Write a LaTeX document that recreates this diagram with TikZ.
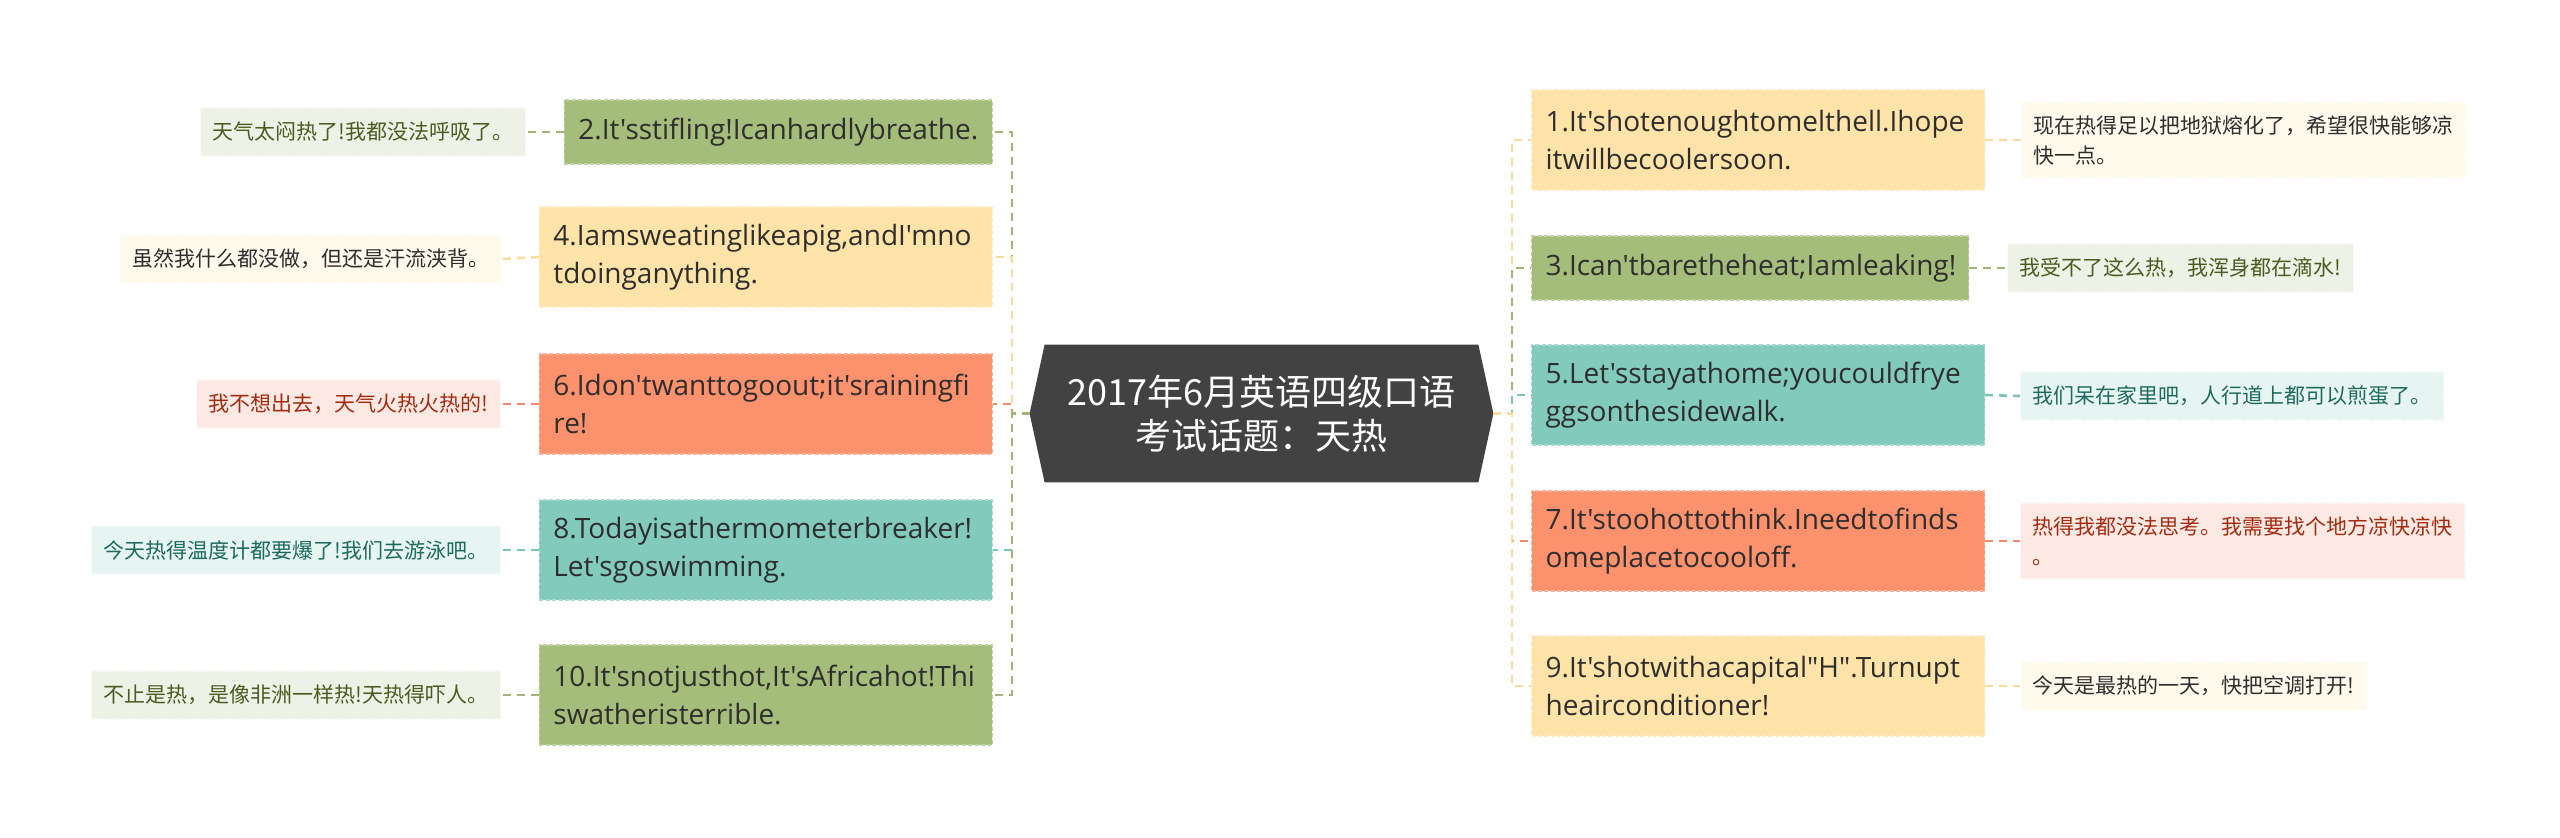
\documentclass[tikz,border=0pt]{standalone}
\usepackage{fontspec}
\newfontfamily\zh{Noto Sans CJK SC}
\newfontfamily\os{Open Sans}
\usetikzlibrary{backgrounds}
\hyphenpenalty=10000
\exhyphenpenalty=10000
\definecolor{cgreen}{HTML}{A5BD7A}
\definecolor{cyellow}{HTML}{FFE3A8}
\definecolor{corange}{HTML}{FC916E}
\definecolor{cteal}{HTML}{82CABC}
\definecolor{cdark}{HTML}{424242}
\definecolor{lgreen}{HTML}{EEF1E5}
\definecolor{lyellow}{HTML}{FFFAEC}
\definecolor{lorange}{HTML}{FDE9E3}
\definecolor{lteal}{HTML}{E6F5F2}
\definecolor{tgreen}{HTML}{4A5C22}
\definecolor{tdark}{HTML}{2E2E2E}
\definecolor{torange}{HTML}{A22C12}
\definecolor{tteal}{HTML}{1E6A5C}
\definecolor{kyellow}{HTML}{F8DC9F}
\definecolor{korange}{HTML}{F08C6B}
\definecolor{kteal}{HTML}{7CC4B7}
\definecolor{kgreen}{HTML}{A0B577}
\tikzset{
  conn/.style={draw=#1, line width=1.3pt, dash pattern=on 4pt off 3pt},
  mainbox/.style={fill=#1, draw=#1!70!white, line width=0.6pt, dash pattern=on 2pt off 1.2pt,
    font=\os\fontsize{14}{18.75}\selectfont, text=tdark, align=left, inner xsep=7pt, inner ysep=0pt},
  leafbox/.style 2 args={fill=#1, draw=#1!40!white, line width=0.6pt, dash pattern=on 2pt off 1.2pt,
    font=\zh\fontsize{10.5}{15}\selectfont, text=#2, align=left, inner xsep=6pt, inner ysep=0pt},
  one/.style={minimum height=32pt},
  two/.style={minimum height=50pt},
  lone/.style={minimum height=24pt},
  ltwo/.style={minimum height=38pt}
}
\begin{document}
\begin{tikzpicture}[x=0.5pt, y=-0.5pt]
\useasboundingbox (0,0) rectangle (2560,837);

% centre
\node[font=\zh\fontsize{18}{22}\selectfont, text=white, align=center,
      minimum width=231.5pt, minimum height=68.5pt, inner sep=0pt] (c) at (1261.5,413.5)
      {2017年6月英语四级口语\\考试话题：天热};
\begin{scope}[on background layer]
\fill[white] (0,0) rectangle (2560,837);
\fill[cdark] (c.west) -- ([xshift=7.5pt]c.north west) -- ([xshift=-7.5pt]c.north east)
  -- (c.east) -- ([xshift=-7.5pt]c.south east) -- ([xshift=7.5pt]c.south west) -- cycle;
\end{scope}

\coordinate (lb) at (1012,413.5);
\coordinate (rb) at (1512,413.5);

% left main nodes
\node[mainbox=cgreen, one, text width=200pt, anchor=east] (n2) at (993,132) {2.It'sstifling!Icanhardlybreathe.};
\node[mainbox=cyellow, two, text width=212.5pt, anchor=east] (n4) at (993,257) {4.Iamsweatinglikeapig,andI'mno\\tdoinganything.};
\node[mainbox=corange, two, text width=212.5pt, anchor=east] (n6) at (993,404) {6.Idon'twanttogoout;it'srainingfi\\re!};
\node[mainbox=cteal, two, text width=212.5pt, anchor=east] (n8) at (993,550) {8.Todayisathermometerbreaker!\\Let'sgoswimming.};
\node[mainbox=cgreen, two, text width=212.5pt, anchor=east] (n10) at (993,695) {10.It'snotjusthot,It'sAfricahot!Thi\\swatheristerrible.};

% right main nodes
\node[mainbox=cyellow, two, text width=212.5pt, anchor=west] (n1) at (1531,140) {1.It'shotenoughtomelthell.Ihope\\itwillbecoolersoon.};
\node[mainbox=cgreen, one, text width=204.5pt, anchor=west] (n3) at (1531,268) {3.Ican'tbaretheheat;Iamleaking!};
\node[mainbox=cteal, two, text width=212.5pt, anchor=west] (n5) at (1531,395) {5.Let'sstayathome;youcouldfrye\\ggsonthesidewalk.};
\node[mainbox=corange, two, text width=212.5pt, anchor=west] (n7) at (1531,541) {7.It'stoohottothink.Ineedtofinds\\omeplacetocooloff.};
\node[mainbox=cyellow, two, text width=212.5pt, anchor=west] (n9) at (1531,686) {9.It'shotwithacapital"H".Turnupt\\heairconditioner!};

% left leaves
\node[leafbox={lgreen}{tgreen}, lone, anchor=east] (l2) at (526,132) {天气太闷热了!我都没法呼吸了。};
\node[leafbox={lyellow}{tdark}, lone, anchor=east] (l4) at (502,259) {虽然我什么都没做，但还是汗流浃背。};
\node[leafbox={lorange}{torange}, lone, anchor=east] (l6) at (501,404) {我不想出去，天气火热火热的!};
\node[leafbox={lteal}{tteal}, lone, anchor=east] (l8) at (501,550) {今天热得温度计都要爆了!我们去游泳吧。};
\node[leafbox={lgreen}{tgreen}, lone, anchor=east] (l10) at (501,695) {不止是热，是像非洲一样热!天热得吓人。};

% right leaves
\node[leafbox={lyellow}{tdark}, ltwo, anchor=west] (l1) at (2021,140) {现在热得足以把地狱熔化了，希望很快能够凉\\快一点。};
\node[leafbox={lgreen}{tgreen}, lone, anchor=west] (l3) at (2007,268) {我受不了这么热，我浑身都在滴水!};
\node[leafbox={lteal}{tteal}, lone, anchor=west] (l5) at (2020,396) {我们呆在家里吧，人行道上都可以煎蛋了。};
\node[leafbox={lorange}{torange}, ltwo, anchor=west] (l7) at (2020,541) {热得我都没法思考。我需要找个地方凉快凉快\\。};
\node[leafbox={lyellow}{tdark}, lone, anchor=west] (l9) at (2020,686) {今天是最热的一天，快把空调打开!};

% left connectors
\draw[conn=kgreen] (c.west) -- (lb) |- (n2.east);
\draw[conn=kyellow] (c.west) -- (lb) |- (n4.east);
\draw[conn=korange] (c.west) -- (lb) |- (n6.east);
\draw[conn=kteal] (c.west) -- (lb) |- (n8.east);
\draw[conn=kgreen] (c.west) -- (lb) |- (n10.east);

% right connectors
\draw[conn=kyellow] (c.east) -- (rb) |- (n1.west);
\draw[conn=kgreen] (c.east) -- (rb) |- (n3.west);
\draw[conn=kteal] (c.east) -- (rb) |- (n5.west);
\draw[conn=korange] (c.east) -- (rb) |- (n7.west);
\draw[conn=kyellow] (c.east) -- (rb) |- (n9.west);

% leaf connectors
\draw[conn=kgreen] (n2.west) -- (l2.east);
\draw[conn=kyellow] (n4.west) -- (l4.east);
\draw[conn=korange] (n6.west) -- (l6.east);
\draw[conn=kteal] (n8.west) -- (l8.east);
\draw[conn=kgreen] (n10.west) -- (l10.east);
\draw[conn=kyellow] (n1.east) -- (l1.west);
\draw[conn=kgreen] (n3.east) -- (l3.west);
\draw[conn=kteal] (n5.east) -- (l5.west);
\draw[conn=korange] (n7.east) -- (l7.west);
\draw[conn=kyellow] (n9.east) -- (l9.west);
\end{tikzpicture}
\end{document}
